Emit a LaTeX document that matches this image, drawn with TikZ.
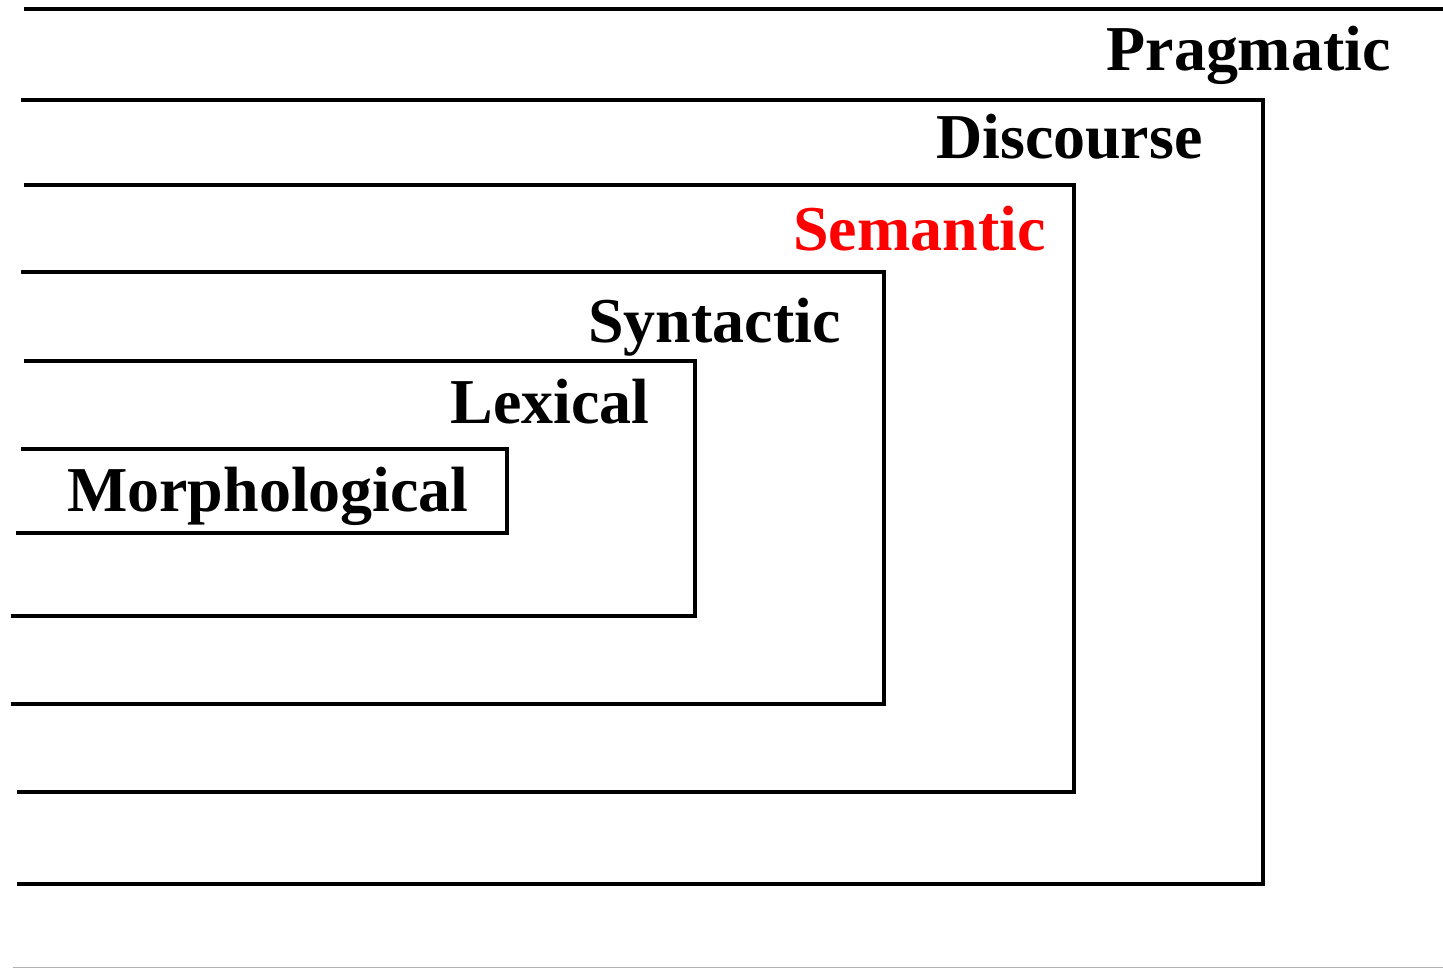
\documentclass[tikz,border=0pt]{standalone}
\usepackage{fontspec}
\setmainfont{Liberation Serif}
\usepackage{tikz}

\tikzset{
  level/.style={line width=2.3pt, line join=miter},
  levelname/.style={anchor=base east, inner sep=0pt, font=\fontsize{36.4}{40}\selectfont\bfseries}
}

\begin{document}
\begin{tikzpicture}[x=0.02cm, y=-0.02cm]
				\useasboundingbox (0,0) rectangle (1443,969);
				
				% Draw the nested levels, outermost first
				\draw[level] (24,9) -- (1443,9);
				\draw[level] (21,100) -- (1263,100) -- (1263,884) -- (17,884);
				\draw[level] (24,185) -- (1074,185) -- (1074,792) -- (17,792);
				\draw[level] (21,272) -- (884,272) -- (884,704) -- (11,704);
				\draw[level] (24,361) -- (695,361) -- (695,616) -- (11,616);
				\draw[level] (21,449) -- (507,449) -- (507,533) -- (16,533);
				
				% Bottom edge of the page
				\draw[gray!60, thin] (13,967) -- (1443,967);
				
				% Label the levels
				\node[levelname] (pragmatic) at (1391,71) {Pragmatic};
				\node[levelname] (discourse) at (1203,159) {Discourse};
				\node[levelname, red] (semantic) at (1046,251) {Semantic};
				\node[levelname] (syntactic) at (841,343) {Syntactic};
				\node[levelname] (lexical) at (650,423) {Lexical};
				\node[levelname] (morphological) at (469,511) {Morphological};
			\end{tikzpicture}
\end{document}
